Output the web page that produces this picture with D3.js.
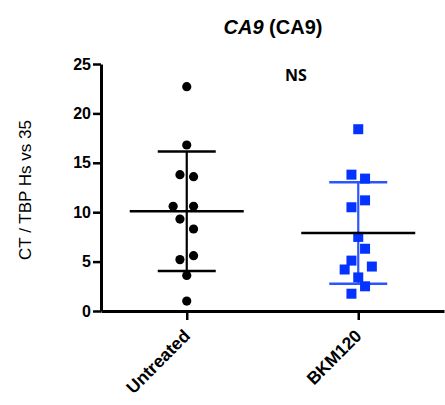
<!DOCTYPE html>
<html><head><meta charset="utf-8">
<script src="https://cdn.jsdelivr.net/npm/d3@7"></script>
<style>body{margin:0;background:#fff}svg{display:block}</style>
</head><body>
<svg id="chart" width="445" height="405"></svg>
<script>
const categories = ["Untreated", "BKM120"];
const untreatedValues = [22.7, 16.8, 13.8, 13.6, 10.6, 10.6, 9.3, 8.3, 5.6, 5.2, 3.6, 1.0];
const untreatedLane   = [0, 0, -1, 1, -2, 1, -1, 1, 1, -1, 0, 0];
const bkm120Values = [18.4, 13.8, 13.4, 11.2, 10.5, 7.5, 6.3, 5.1, 4.2, 4.5, 3.4, 2.5, 1.75];
const bkm120Lane   = [0, -1, 1, 1, -1, 0, 1, -1, -2, 2, 0, 1, -1];
const yTicks = [0, 5, 10, 15, 20, 25];
const yLabel = "CT / TBP Hs vs 35";
const annotation = "NS";

const groups = [
  {name: categories[0], values: untreatedValues, lanes: untreatedLane, color: "#000000", errColor: "#000000", shape: "circle"},
  {name: categories[1], values: bkm120Values, lanes: bkm120Lane, color: "#0433ff", errColor: "#2a55ff", shape: "square"}
];

const svg = d3.select("#chart");
const x = d3.scalePoint().domain(categories).range([101, 444]).padding(0.5);
const y = d3.scaleLinear().domain([0, 25]).range([311, 64]);
const laneStep = 6.8;

// Title
const title = svg.append("text").attr("x", 273).attr("y", 34).attr("text-anchor", "middle")
  .attr("font-family", "Liberation Sans, Arial, sans-serif").attr("font-size", 20).attr("font-weight", "bold");
title.append("tspan").attr("font-style", "italic").text("CA9");
title.append("tspan").text(" (CA9)");

// NS
svg.append("text").attr("x", 296).attr("y", 81).attr("text-anchor", "middle")
  .attr("font-family", "Open Sans, Liberation Sans, sans-serif").attr("font-size", 16).attr("font-weight", "bold")
  .text(annotation);

// Y axis
const yAxis = svg.append("g").attr("transform", "translate(101,0)")
  .call(d3.axisLeft(y).tickValues(yTicks).tickSize(8).tickSizeOuter(0).tickPadding(2));
yAxis.select(".domain").attr("stroke", "#000").attr("stroke-width", 3);
yAxis.selectAll(".tick line").attr("stroke", "#000").attr("stroke-width", 2.5);
yAxis.selectAll(".tick text").attr("font-family", "Liberation Sans, Arial, sans-serif")
  .attr("font-size", 16).attr("font-weight", "bold").attr("fill", "#000");

// X axis
const xAxis = svg.append("g").attr("transform", "translate(0,311)")
  .call(d3.axisBottom(x).tickSize(9).tickSizeOuter(0));
xAxis.select(".domain").attr("stroke", "#000").attr("stroke-width", 3);
xAxis.selectAll(".tick line").attr("stroke", "#000").attr("stroke-width", 2.5);
xAxis.selectAll(".tick text")
  .attr("font-family", "Liberation Sans, Arial, sans-serif").attr("font-size", 17.5).attr("font-weight", "bold")
  .attr("fill", "#000").attr("text-anchor", "end").attr("dy", 0).attr("y", 0)
  .attr("transform", "translate(4,26) rotate(-45)");

// Y label
svg.append("text").attr("transform", "translate(31,190) rotate(-90)").attr("text-anchor", "middle")
  .attr("font-family", "Liberation Sans, Arial, sans-serif").attr("font-size", 17).attr("fill", "#000")
  .text(yLabel);

// Points and error bars
groups.forEach(g => {
  const cx = x(g.name);
  const m = d3.mean(g.values), sd = d3.deviation(g.values);
  const gg = svg.append("g");
  gg.append("line").attr("x1", cx).attr("x2", cx).attr("y1", y(m + sd)).attr("y2", y(m - sd))
    .attr("stroke", g.errColor).attr("stroke-width", 2.2);
  [m + sd, m - sd].forEach(v => {
    gg.append("line").attr("x1", cx - 29).attr("x2", cx + 29).attr("y1", y(v)).attr("y2", y(v))
      .attr("stroke", g.errColor).attr("stroke-width", 2.5);
  });
  const pts = g.values.map((v, i) => ({v, lane: g.lanes[i]}));
  if (g.shape === "circle") {
    gg.selectAll("circle.pt").data(pts).join("circle").attr("class", "pt")
      .attr("cx", d => cx + d.lane * laneStep).attr("cy", d => y(d.v)).attr("r", 4.6).attr("fill", g.color);
  } else {
    gg.selectAll("rect.pt").data(pts).join("rect").attr("class", "pt")
      .attr("x", d => cx + d.lane * laneStep - 5).attr("y", d => y(d.v) - 5)
      .attr("width", 10).attr("height", 10).attr("fill", g.color);
  }
  gg.append("line").attr("x1", cx - 57).attr("x2", cx + 57).attr("y1", y(m)).attr("y2", y(m))
    .attr("stroke", "#000").attr("stroke-width", 2.5);
});
</script>
</body></html>
